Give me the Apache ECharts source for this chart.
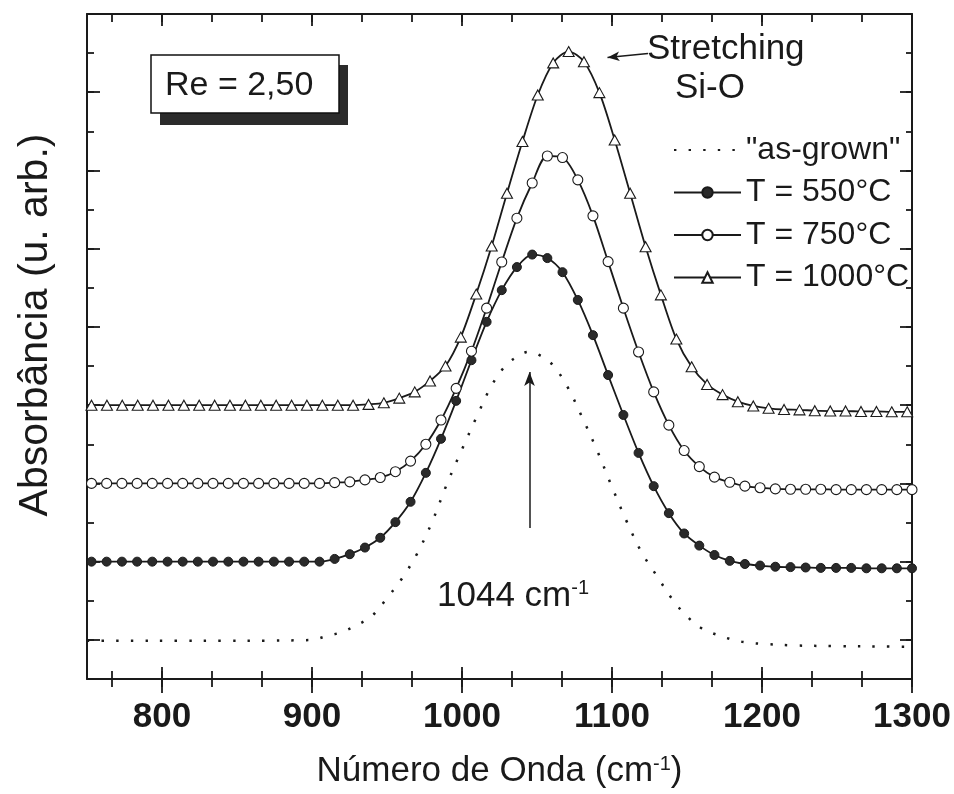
<!DOCTYPE html>
<html><head><meta charset="utf-8">
<script src="https://cdn.jsdelivr.net/npm/echarts@6/dist/echarts.min.js"></script>
<style>html,body{margin:0;padding:0;background:#fff}#c{width:954px;height:794px}</style>
</head><body><div id="c"></div>
<script>
// ---------- axis definitions ----------
const xRange = [750, 1300];
const xTickLabels = ['800', '900', '1000', '1100', '1200', '1300'];
const xMajorStep = 100;
const xMinorPerMajor = 3;
const yRange = [0, 17];          // arbitrary units (one unit = one minor tick)
const yMinorStep = 1;

const xTitle = 'Número de Onda (cm{sup|-1})';
const yTitle = 'Absorbância (u. arb.)';
const seriesNames = ['"as-grown"', 'T = 550°C', 'T = 750°C', 'T = 1000°C'];

// ---------- data ----------
const asGrownX = [750, 780, 810, 840, 870, 890, 900, 910, 920, 930, 940, 950, 960, 970, 980, 990, 1000, 1010, 1020, 1030, 1040, 1044, 1050, 1060, 1070, 1080, 1090, 1100, 1110, 1120, 1130, 1140, 1150, 1160, 1170, 1180, 1190, 1200, 1220, 1250, 1280, 1300];
const asGrownY = [0.98, 0.98, 0.98, 0.98, 0.98, 0.99, 1.00, 1.10, 1.20, 1.38, 1.61, 2.07, 2.57, 3.20, 4.01, 4.99, 5.87, 6.72, 7.52, 8.05, 8.31, 8.36, 8.31, 8.05, 7.49, 6.70, 5.85, 4.91, 4.01, 3.22, 2.63, 2.05, 1.60, 1.29, 1.13, 1.01, 0.93, 0.90, 0.86, 0.84, 0.83, 0.82];

const circleX = [753.0, 763.1, 773.3, 783.4, 793.5, 803.7, 813.8, 823.9, 834.0, 844.2, 854.3, 864.4, 874.6, 884.7, 894.8, 905.0, 915.1, 925.2, 935.3, 945.5, 955.6, 965.7, 975.9, 986.0, 996.1, 1006.3, 1016.4, 1026.5, 1036.6, 1046.8, 1056.9, 1067.0, 1077.2, 1087.3, 1097.4, 1107.6, 1117.7, 1127.8, 1137.9, 1148.1, 1158.2, 1168.3, 1178.5, 1188.6, 1198.7, 1208.9, 1219.0, 1229.1, 1239.2, 1249.4, 1259.5, 1269.6, 1279.8, 1289.9, 1300.0];
const t550Y = [3.00, 3.00, 3.00, 3.00, 3.00, 3.00, 3.00, 3.00, 3.00, 3.00, 3.00, 3.00, 3.00, 3.00, 3.00, 3.00, 3.07, 3.19, 3.36, 3.61, 4.01, 4.53, 5.27, 6.14, 7.11, 8.15, 9.13, 9.94, 10.53, 10.85, 10.76, 10.40, 9.69, 8.79, 7.77, 6.75, 5.78, 4.93, 4.24, 3.72, 3.41, 3.17, 3.02, 2.94, 2.90, 2.87, 2.86, 2.85, 2.84, 2.84, 2.84, 2.83, 2.83, 2.83, 2.83];
const t750Y = [5.00, 5.00, 5.00, 5.00, 5.00, 5.00, 5.00, 5.00, 5.00, 5.00, 5.00, 5.00, 5.00, 5.00, 5.00, 5.00, 5.02, 5.04, 5.09, 5.15, 5.30, 5.57, 6.00, 6.62, 7.43, 8.38, 9.48, 10.66, 11.78, 12.68, 13.37, 13.33, 12.76, 11.84, 10.67, 9.48, 8.36, 7.34, 6.49, 5.84, 5.43, 5.16, 5.03, 4.93, 4.89, 4.86, 4.85, 4.85, 4.85, 4.84, 4.84, 4.84, 4.84, 4.84, 4.84];

const triX = [753.0, 763.3, 773.5, 783.8, 794.0, 804.3, 814.6, 824.8, 835.1, 845.3, 855.6, 865.9, 876.1, 886.4, 896.6, 906.9, 917.2, 927.4, 937.7, 947.9, 958.2, 968.5, 978.7, 989.0, 999.2, 1009.5, 1019.8, 1030.0, 1040.3, 1050.5, 1060.8, 1071.1, 1081.3, 1091.6, 1101.8, 1112.1, 1122.4, 1132.6, 1142.9, 1153.1, 1163.4, 1173.7, 1183.9, 1194.2, 1204.4, 1214.7, 1225.0, 1235.2, 1245.5, 1255.7, 1266.0, 1276.3, 1286.5, 1296.8];
const t1000Y = [7.00, 7.00, 7.00, 7.00, 7.00, 7.00, 7.00, 7.00, 7.00, 7.00, 7.00, 7.00, 7.00, 7.00, 7.00, 7.00, 7.00, 7.00, 7.02, 7.06, 7.18, 7.34, 7.62, 8.00, 8.74, 9.84, 11.07, 12.42, 13.74, 14.93, 15.75, 16.04, 15.78, 14.99, 13.78, 12.42, 11.05, 9.82, 8.69, 7.98, 7.53, 7.27, 7.09, 6.98, 6.92, 6.89, 6.88, 6.86, 6.85, 6.85, 6.84, 6.84, 6.83, 6.83];

// annotation arrows (data units)
const peakArrow = { x: 1045, yFrom: 3.86, yTo: 7.85 };
const stretchArrow = { xFrom: 1124, yFrom: 15.99, xTo: 1097, yTo: 15.89 };
const peakLabel = '1044 cm{sup|-1}';
const boxLabel = 'Re = 2,50';
const stretchLabel1 = 'Stretching';
const stretchLabel2 = 'Si-O';

// ---------- helpers ----------
const FONT = '"Liberation Sans", Arial, Helvetica, sans-serif';
const INK = '#1a1a1a';
const zip = (xs, ys) => xs.map((x, i) => [x, ys[i]]);

const xHalf = xMajorStep / (2 * xMinorPerMajor);
const nX = Math.round((xRange[1] - xRange[0]) / xHalf);
const xCats = [];
for (let i = 0; i <= nX; i++) xCats.push(String(Math.round((xRange[0] + i * xHalf) * 100) / 100));
const xIsMinor = (i) => i % 2 === 1;
const xIsMajor = (i) => xTickLabels.indexOf(xCats[i]) >= 0;

const nY = Math.round((yRange[1] - yRange[0]) / yMinorStep);
const yCats = [];
for (let i = 0; i <= nY; i++) yCats.push(String(yRange[0] + i * yMinorStep));
const yIsMajor = (i) => i % 2 === 1;

function tickAxis(pos, opts) {
  return Object.assign({
    type: 'category', position: pos, data: pos === 'top' || pos === 'bottom' ? xCats : yCats,
    boundaryGap: false, axisLine: { show: false },
    axisLabel: { show: false }, splitLine: { show: false }, silent: true
  }, opts);
}
const lineOn = { show: true, lineStyle: { color: INK, width: 2 } };

const xAxes = [
  { type: 'value', min: xRange[0], max: xRange[1], show: false },
  tickAxis('bottom', { axisLine: lineOn, axisTick: { show: true, inside: true, length: 8, interval: (i) => xIsMinor(i), lineStyle: { color: INK, width: 1.8 } } }),
  tickAxis('bottom', { axisTick: { show: true, inside: false, length: 8, interval: (i) => xIsMinor(i), lineStyle: { color: INK, width: 1.8 } } }),
  tickAxis('bottom', { axisTick: { show: true, inside: true, length: 12, interval: (i) => xIsMajor(i), lineStyle: { color: INK, width: 1.8 } } }),
  tickAxis('bottom', {
    axisTick: { show: true, inside: false, length: 14, interval: (i) => xIsMajor(i), lineStyle: { color: INK, width: 1.8 } },
    axisLabel: { show: true, interval: (i) => xIsMajor(i), margin: 21, fontSize: 35, fontWeight: 'bold', fontFamily: FONT, color: INK },
    name: xTitle, nameLocation: 'middle', nameGap: 75,
    nameTextStyle: { fontSize: 35, fontFamily: FONT, color: INK,
      rich: { sup: { fontSize: 20, fontFamily: FONT, color: INK, verticalAlign: 'top', padding: [0, 0, 14, 0] } } }
  }),
  tickAxis('top', { axisLine: lineOn, axisTick: { show: true, inside: true, length: 8, interval: (i) => xIsMinor(i), lineStyle: { color: INK, width: 1.8 } } }),
  tickAxis('top', { axisTick: { show: true, inside: true, length: 12, interval: (i) => xIsMajor(i), lineStyle: { color: INK, width: 1.8 } } })
];
const yAxes = [
  { type: 'value', min: yRange[0], max: yRange[1], show: false },
  tickAxis('left', { axisLine: lineOn, axisTick: { show: true, inside: true, length: 7, interval: () => true, lineStyle: { color: INK, width: 1.8 } } }),
  tickAxis('left', { axisTick: { show: true, inside: true, length: 13, interval: (i) => yIsMajor(i), lineStyle: { color: INK, width: 1.8 } } }),
  tickAxis('right', { axisLine: lineOn, axisTick: { show: true, inside: true, length: 6, interval: () => true, lineStyle: { color: INK, width: 1.8 } } }),
  tickAxis('right', { axisTick: { show: true, inside: true, length: 12, interval: (i) => yIsMajor(i), lineStyle: { color: INK, width: 1.8 } } })
];

const arrowLine = { color: INK, width: 1.5, type: 'solid' };

const option = {
  animation: false,
  backgroundColor: '#fff',
  grid: { left: 87, right: 42, top: 14, bottom: 115, containLabel: false, outerBoundsMode: 'none' },
  xAxis: xAxes,
  yAxis: yAxes,
  legend: {
    orient: 'vertical', left: 668, top: 128, itemWidth: 67, itemHeight: 13, itemGap: 8.5,
    data: [
      { name: seriesNames[0], itemStyle: { opacity: 0 } },
      seriesNames[1], seriesNames[2], seriesNames[3]
    ],
    selectedMode: false,
    textStyle: { fontSize: 32, fontFamily: FONT, color: INK, lineHeight: 34, padding: [0, 0, 0, 0] }
  },
  series: [
    {
      name: seriesNames[0], type: 'line', xAxisIndex: 0, yAxisIndex: 0,
      data: zip(asGrownX, asGrownY), symbol: 'none', smooth: 0.35,
      lineStyle: { color: INK, width: 2.5, type: [2.4, 12.2] },
      itemStyle: { color: INK },
      markLine: {
        silent: true, symbol: ['none', 'arrow'], symbolSize: [8, 14], label: { show: false },
        lineStyle: arrowLine, emphasis: { disabled: true },
        data: [[{ coord: [peakArrow.x, peakArrow.yFrom] }, { coord: [peakArrow.x, peakArrow.yTo] }]]
      }
    },
    {
      name: seriesNames[1], type: 'line', xAxisIndex: 0, yAxisIndex: 0,
      data: zip(circleX, t550Y), symbol: 'circle', symbolSize: 9, showAllSymbol: true, smooth: 0.3,
      lineStyle: { color: INK, width: 1.8 },
      itemStyle: { color: '#2a2a2a', borderColor: INK, borderWidth: 1 }
    },
    {
      name: seriesNames[2], type: 'line', xAxisIndex: 0, yAxisIndex: 0,
      data: zip(circleX, t750Y), symbol: 'circle', symbolSize: 10, showAllSymbol: true, smooth: 0.3,
      lineStyle: { color: INK, width: 1.8 },
      itemStyle: { color: '#fff', borderColor: INK, borderWidth: 1.1 }
    },
    {
      name: seriesNames[3], type: 'line', xAxisIndex: 0, yAxisIndex: 0,
      data: zip(triX, t1000Y), symbol: 'triangle', symbolSize: [11, 10], showAllSymbol: true, smooth: 0.3,
      lineStyle: { color: INK, width: 1.8 },
      itemStyle: { color: '#fff', borderColor: INK, borderWidth: 1.1 },
      markLine: {
        silent: true, symbol: ['none', 'arrow'], symbolSize: [7, 12], label: { show: false },
        lineStyle: arrowLine, emphasis: { disabled: true },
        data: [[{ coord: [stretchArrow.xFrom, stretchArrow.yFrom] }, { coord: [stretchArrow.xTo, stretchArrow.yTo] }]]
      }
    }
  ],
  graphic: [
    { type: 'rect', z: 100, shape: { x: 160, y: 65, width: 188, height: 60 }, style: { fill: '#2b2b2b' } },
    { type: 'rect', z: 101, shape: { x: 151, y: 55, width: 188, height: 58 }, style: { fill: '#fff', stroke: '#111', lineWidth: 1.5 } },
    { type: 'text', z: 102, x: 165, y: 86, style: { text: boxLabel, fontSize: 34, fontFamily: FONT, fill: INK, verticalAlign: 'middle' } },
    { type: 'text', z: 102, x: 647, y: 49, style: { text: stretchLabel1, fontSize: 35, fontFamily: FONT, fill: INK, verticalAlign: 'middle' } },
    { type: 'text', z: 102, x: 675, y: 88, style: { text: stretchLabel2, fontSize: 35, fontFamily: FONT, fill: INK, verticalAlign: 'middle' } },
    { type: 'text', z: 102, x: 437, y: 596, style: { text: peakLabel, fontSize: 35, fontFamily: FONT, fill: INK, verticalAlign: 'middle',
        rich: { sup: { fontSize: 20, fontFamily: FONT, fill: INK, verticalAlign: 'top', padding: [0, 0, 14, 0] } } } },
    { type: 'text', z: 102, x: 36, y: 325, rotation: Math.PI / 2, style: { text: yTitle, fontSize: 41, fontFamily: FONT, fill: INK, align: 'center', verticalAlign: 'middle' } }
  ]
};

const chart = echarts.init(document.getElementById('c'), null, { renderer: 'canvas' });
chart.setOption(option);
</script>
</body></html>
